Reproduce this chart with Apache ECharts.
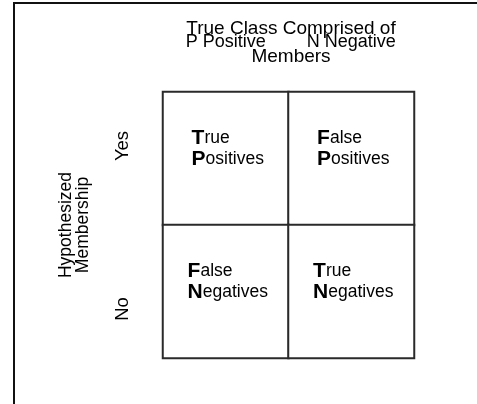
<!DOCTYPE html>
<html>
<head>
<meta charset="utf-8">
<script src="https://cdn.jsdelivr.net/npm/echarts@6/dist/echarts.min.js"></script>
<style>
html,body{margin:0;padding:0;background:#fff;}
#chart{width:477px;height:404px;}
</style>
</head>
<body>
<div id="chart"></div>
<script>
// ---- data ----
const columns = ['P Positive', 'N Negative'];          // true class (top axis labels)
const rows = ['No', 'Yes'];                              // hypothesized membership (bottom to top)
const xAxisTitle = ['True Class Comprised of', '', 'Members'];
const yAxisTitle = ['Hypothesized', 'Membership'];
const cellColumn = ['P Positive', 'N Negative', 'P Positive', 'N Negative'];
const cellRow = ['Yes', 'Yes', 'No', 'No'];
const cellWord1 = ['True', 'False', 'False', 'True'];
const cellWord2 = ['Positives', 'Positives', 'Negatives', 'Negatives'];

// ---- chart ----
const FONT = '"Liberation Sans", Arial, Helvetica, sans-serif';
const chart = echarts.init(document.getElementById('chart'), null, {renderer: 'canvas'});

const seriesData = cellColumn.map((c, i) => ({
  value: [columns.indexOf(c), rows.indexOf(cellRow[i]), 1],
  name: cellWord1[i] + ' ' + cellWord2[i]
}));

function splitWord(w) {
  return '{b|' + w.charAt(0) + '}{r|' + w.slice(1) + '}';
}

const option = {
  animation: false,
  backgroundColor: '#fff',
  graphic: [{
    type: 'polyline',
    silent: true,
    shape: {points: [[14, 404], [14, 3], [477, 3]]},
    style: {stroke: '#111', lineWidth: 2, fill: null}
  }],
  grid: {left: 163, top: 92, width: 251, height: 266, containLabel: false, outerBoundsMode: 'none'},
  xAxis: {
    type: 'category',
    position: 'top',
    data: columns,
    axisLine: {show: false},
    axisTick: {show: false},
    splitLine: {show: false},
    axisLabel: {interval: 0, margin: 41, fontSize: 18, color: '#000', fontFamily: FONT},
    name: xAxisTitle.join('\n'),
    nameLocation: 'middle',
    nameGap: 28,
    nameMoveOverlap: false,
    nameTextStyle: {fontSize: 19, lineHeight: 14.2, color: '#000', fontFamily: FONT, padding: [0, 0, 0, 5]}
  },
  yAxis: {
    type: 'category',
    data: rows,
    axisLine: {show: false},
    axisTick: {show: false},
    splitLine: {show: false},
    axisLabel: {
      interval: 0,
      rotate: 90,
      margin: 31,
      fontSize: 18.5,
      color: '#000',
      fontFamily: FONT,
      formatter: v => (v === 'Yes' ? '{yes|' + v + '}' : '{no|' + v + '}'),
      rich: {
        yes: {fontSize: 18.5, color: '#000', fontFamily: FONT, padding: [0, 0, 0, 25]},
        no: {fontSize: 18.5, color: '#000', fontFamily: FONT, padding: [0, 35, 0, 0]}
      }
    },
    name: yAxisTitle.join('\n'),
    nameLocation: 'middle',
    nameRotate: 90,
    nameGap: 71,
    nameMoveOverlap: false,
    nameTextStyle: {fontSize: 17.5, lineHeight: 17.5, color: '#000', fontFamily: FONT}
  },
  series: [{
    type: 'heatmap',
    data: seriesData,
    itemStyle: {color: '#fff', borderColor: '#2a2a2a', borderWidth: 2},
    emphasis: {disabled: true},
    label: {
      show: true,
      position: ['50%', 37],
      align: 'center',
      verticalAlign: 'top',
      offset: [2, 0],
      formatter: p => splitWord(cellWord1[p.dataIndex]) + '\n' + splitWord(cellWord2[p.dataIndex]),
      rich: {
        b: {fontWeight: 'bold', fontSize: 21, lineHeight: 21, align: 'left', color: '#000', fontFamily: FONT},
        r: {fontSize: 17.5, lineHeight: 21, align: 'left', color: '#000', fontFamily: FONT}
      }
    }
  }]
};
chart.setOption(option);
</script>
</body>
</html>
